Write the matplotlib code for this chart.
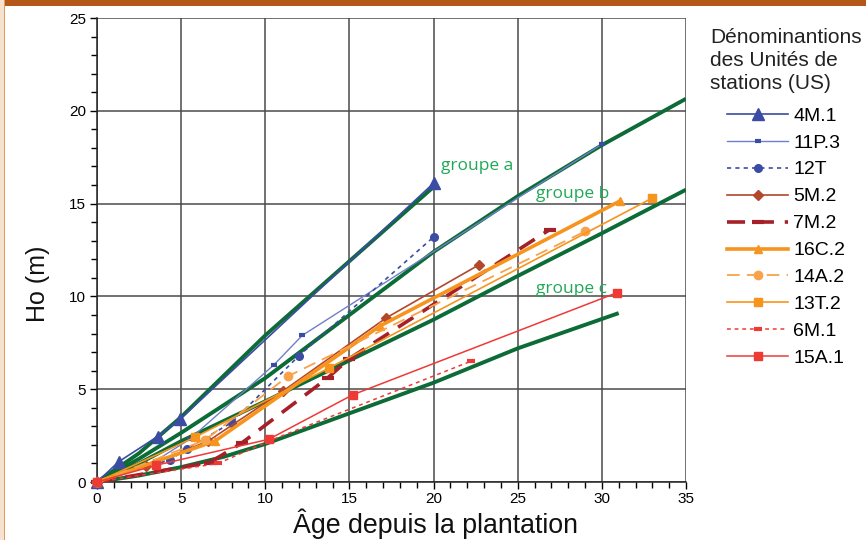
import matplotlib
matplotlib.use('Agg')
import matplotlib.pyplot as plt
from matplotlib.patches import Rectangle
from matplotlib.ticker import MultipleLocator

plt.rcParams['font.family'] = ['Liberation Sans', 'DejaVu Sans']

# Dominant height (Ho, m) by age for each station unit
age_4M1 = [0, 1.3, 3.6, 4.95, 20]
ho_4M1 = [0, 1.1, 2.45, 3.4, 16.1]

age_11P3 = [0, 3.5, 5.5, 10.5, 12.2, 30]
ho_11P3 = [0, 1.15, 2.3, 6.3, 7.9, 18.2]

age_12T = [0, 4.35, 5.35, 8.0, 12.0, 20]
ho_12T = [0, 1.2, 1.8, 3.2, 6.8, 13.2]

age_5M2 = [0, 2.9, 6.6, 11.05, 17.2, 22.7]
ho_5M2 = [0, 0.85, 2.2, 4.9, 8.85, 11.7]

age_7M2 = [0, 6.7, 8.6, 13.7, 15.0, 26.9]
ho_7M2 = [0, 1.05, 2.1, 5.6, 6.65, 13.6]

age_16C2 = [0, 7.0, 16.8, 31.1]
ho_16C2 = [0, 2.2, 8.4, 15.15]

age_14A2 = [0, 6.4, 11.35, 29.0]
ho_14A2 = [0, 2.25, 5.7, 13.5]

age_13T2 = [0, 5.8, 13.8, 33.0]
ho_13T2 = [0, 2.4, 6.15, 15.3]

age_6M1 = [0, 7.2, 10.2, 22.2]
ho_6M1 = [0, 1.0, 2.2, 6.5]

age_15A1 = [0, 3.5, 10.2, 15.2, 30.9]
ho_15A1 = [0, 0.9, 2.3, 4.7, 10.2]

# Growth group envelopes
env_a_age = [0, 2.5, 5, 7.5, 10, 15, 20]
env_a_ho = [0, 1.55, 3.5, 5.7, 7.9, 11.9, 15.9]
env_ab_age = [0, 2.5, 5, 10, 15, 20, 25, 30, 35]
env_ab_ho = [0, 1.25, 2.65, 5.6, 9.0, 12.4, 15.4, 18.15, 20.65]
env_bc_age = [0, 2.5, 5, 10, 15, 20, 25, 30, 35]
env_bc_ho = [0, 1.0, 2.2, 4.35, 6.55, 8.75, 11.1, 13.4, 15.75]
env_c_age = [0, 2.5, 5, 7.5, 10, 15, 20, 25, 31]
env_c_ho = [0, 0.35, 0.8, 1.35, 2.05, 3.7, 5.35, 7.2, 9.1]

group_labels = ['groupe a', 'groupe b', 'groupe c']
group_label_pos = [(20.45, 17.0), (26.1, 15.5), (26.1, 10.4)]

x_ticks = [0, 5, 10, 15, 20, 25, 30, 35]
y_ticks = [0, 5, 10, 15, 20, 25]

W, H = 866, 540
fig = plt.figure(figsize=(W / 100, H / 100), dpi=100)
fig.patch.set_facecolor('white')

# page frame
fig.patches.append(Rectangle((0, 1 - 6 / H), 1, 6 / H, transform=fig.transFigure,
                             facecolor='#b3571a', edgecolor='none', zorder=0))
fig.patches.append(Rectangle((0, 0), 4 / W, 1, transform=fig.transFigure,
                             facecolor='#f7e2cf', edgecolor='none', zorder=0))
fig.patches.append(Rectangle((4 / W, 0), 1.3 / W, 1, transform=fig.transFigure,
                             facecolor='#e39a5c', edgecolor='none', zorder=0))

ax = fig.add_axes([97 / W, 58 / H, 589 / W, 464 / H])
ax.set_xlim(0, 35)
ax.set_ylim(0, 25)
ax.set_xticks(x_ticks)
ax.set_yticks(y_ticks)
ax.xaxis.set_minor_locator(MultipleLocator(1))
ax.yaxis.set_minor_locator(MultipleLocator(1))
ax.tick_params(which='major', length=5, width=1, direction='out', labelsize=11, pad=3)
ax.tick_params(which='minor', length=4, width=1, direction='out')
ax.tick_params(axis='x', which='major', pad=2)
ax.grid(True, which='major', color='#4a4a4a', linewidth=1.1)
for side in ['top', 'right']:
    ax.spines[side].set_visible(False)
for side in ['left', 'bottom']:
    ax.spines[side].set_color('#222222')
    ax.spines[side].set_linewidth(1.1)

green = '#0c6b36'
for gx, gy in [(env_a_age, env_a_ho), (env_ab_age, env_ab_ho),
               (env_bc_age, env_bc_ho), (env_c_age, env_c_ho)]:
    ax.plot(gx, gy, color=green, lw=2.8, solid_capstyle='butt', zorder=3)

blue = '#3a4ca3'
lblue = '#6f80c8'
brown = '#b2472c'
dred = '#a6202a'
orange = '#f7941d'
lorange = '#f8a24a'
red = '#ee3a35'

series = [
    ('4M.1', age_4M1, ho_4M1, dict(color=blue, lw=1.2, marker='^', ms=8)),
    ('11P.3', age_11P3, ho_11P3, dict(color=lblue, lw=1.0, marker='_', ms=5, mew=3,
                                      mec=blue)),
    ('12T', age_12T, ho_12T, dict(color=blue, lw=1.2, ls=(0, (2.5, 2.5)), marker='o', ms=5.5)),
    ('5M.2', age_5M2, ho_5M2, dict(color=brown, lw=1.2, marker='D', ms=5)),
    ('7M.2', age_7M2, ho_7M2, dict(color=dred, lw=2.6, ls=(0, (5, 3)), marker='_', ms=9, mew=3)),
    ('16C.2', age_16C2, ho_16C2, dict(color=orange, lw=2.6, marker='^', ms=6)),
    ('14A.2', age_14A2, ho_14A2, dict(color=lorange, lw=1.3, ls=(0, (7, 4)), marker='o', ms=6)),
    ('13T.2', age_13T2, ho_13T2, dict(color=orange, lw=1.2, marker='s', ms=6)),
    ('6M.1', age_6M1, ho_6M1, dict(color=red, lw=1.1, ls=(0, (2.5, 2.5)), marker='_', ms=6, mew=3)),
    ('15A.1', age_15A1, ho_15A1, dict(color=red, lw=1.1, marker='s', ms=6)),
]

handles = []
for name, xs, ys, st in series:
    ln, = ax.plot(xs, ys, label=name, clip_on=False, zorder=4, **st)
    handles.append(ln)

for txt, (tx, ty) in zip(group_labels, group_label_pos):
    ax.text(tx, ty, txt, color='#1fa855', fontsize=12.5, va='center', ha='left',
            family=['Open Sans', 'DejaVu Sans'], zorder=5)

# axis titles
fig.text(435.5 / W, 1 - 533 / H, 'Âge depuis la plantation', fontsize=19.3,
         ha='center', va='baseline', color='#111111')
fig.text(38 / W, 1 - 284 / H, 'Ho (m)', fontsize=18, rotation=90,
         ha='center', va='center', color='#111111')

fig.text(710 / W, 1 - 28 / H, 'Dénominantions\ndes Unités de\nstations (US)',
         fontsize=15, va='top', ha='left', linespacing=1.28, color='#222222')

leg = ax.legend(handles=handles, loc='upper left', bbox_to_anchor=(727 / W, 1 - 107 / H),
                bbox_transform=fig.transFigure, frameon=False,
                handlelength=3.14, handletextpad=0.28, labelspacing=0.48,
                borderpad=0, borderaxespad=0, numpoints=1,
                prop={'family': ['Liberation Sans', 'DejaVu Sans'], 'size': 14})

fig.savefig('out.png', dpi=100)
